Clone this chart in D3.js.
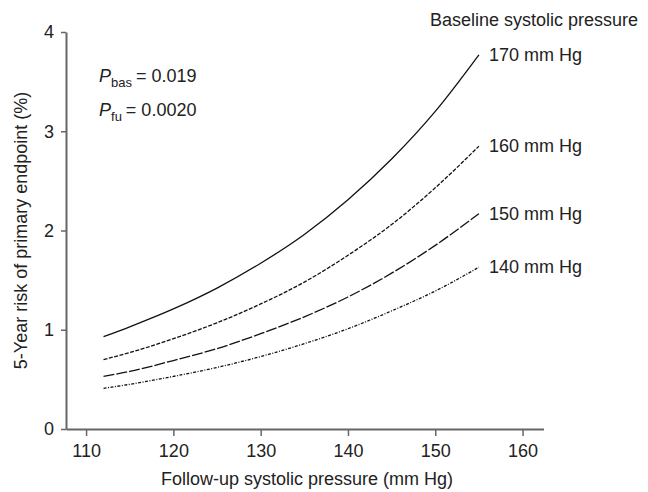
<!DOCTYPE html>
<html>
<head>
<meta charset="utf-8">
<script src="https://cdn.jsdelivr.net/npm/d3@7"></script>
<style>
  body { margin: 0; background: #fff; }
  text { font-family: "Liberation Sans", Arial, sans-serif; fill: #222; }
</style>
</head>
<body>
<div id="chart"></div>
<script>
// follow-up systolic pressure (mm Hg)
const followUp = [112, 115, 120, 125, 130, 135, 140, 145, 150, 155];
// 5-year risk (%) by baseline systolic pressure
const risk170 = [0.93, 1.03, 1.21, 1.42, 1.67, 1.96, 2.31, 2.72, 3.20, 3.77];
const risk160 = [0.70, 0.77, 0.91, 1.07, 1.26, 1.48, 1.75, 2.06, 2.43, 2.85];
const risk150 = [0.53, 0.58, 0.69, 0.81, 0.96, 1.13, 1.33, 1.57, 1.85, 2.17];
const risk140 = [0.41, 0.45, 0.53, 0.62, 0.73, 0.86, 1.01, 1.19, 1.39, 1.63];
const seriesLabels = ["170 mm Hg", "160 mm Hg", "150 mm Hg", "140 mm Hg"];
const xTicks = [110, 120, 130, 140, 150, 160];
const yTicks = [0, 1, 2, 3, 4];

const W = 648, H = 492;
const margin = {top: 32, right: 104.5, bottom: 63, left: 66},
    _width = W - margin.left - margin.right,
    _height = H - margin.top - margin.bottom;

const svg = d3.select("#chart")
    .append("svg")
    .attr("width", W)
    .attr("height", H)
    .append("g")
    .attr("transform", "translate(" + margin.left + "," + margin.top + ")");

const xScale = d3.scaleLinear().domain([107.7, 162.4]).range([0, _width]);
const yScale = d3.scaleLinear().domain([0, 4]).range([_height, 0]);

// axes
const xAxis = svg.append("g")
    .attr("transform", "translate(0," + _height + ")")
    .call(d3.axisBottom(xScale).tickValues(xTicks).tickFormat(d3.format("d"))
        .tickSize(7).tickPadding(8).tickSizeOuter(0));
const yAxis = svg.append("g")
    .call(d3.axisLeft(yScale).tickValues(yTicks).tickFormat(d3.format("d"))
        .tickSize(5).tickPadding(7).tickSizeOuter(0));

[xAxis, yAxis].forEach(function(a) {
    a.select(".domain").attr("stroke", "#666").attr("stroke-width", 2);
    a.selectAll(".tick line").attr("stroke", "#666").attr("stroke-width", 1.5);
    a.selectAll(".tick text").attr("font-size", 18).attr("fill", "#222")
        .attr("font-family", "Liberation Sans, Arial, sans-serif");
});

// axis titles
svg.append("text")
    .attr("x", xScale(135.3))
    .attr("y", _height + 56)
    .attr("text-anchor", "middle")
    .attr("font-size", 18)
    .text("Follow-up systolic pressure (mm Hg)");

svg.append("text")
    .attr("transform", "translate(" + (27 - margin.left) + "," + (_height / 2) + ") rotate(-90)")
    .attr("text-anchor", "middle")
    .attr("font-size", 18)
    .text("5-Year risk of primary endpoint (%)");

// curves
const series = [risk170, risk160, risk150, risk140];
const dashes = [null, "4,1.5", "11,2", "3,1.5,1,1.5"];

const line = d3.line()
    .x(function(d, i) { return xScale(followUp[i]); })
    .y(function(d) { return yScale(d); })
    .curve(d3.curveMonotoneX);

series.forEach(function(s, k) {
    svg.append("path")
        .datum(s)
        .attr("fill", "none")
        .attr("stroke", "#111")
        .attr("stroke-width", 1.3)
        .attr("stroke-dasharray", dashes[k])
        .attr("d", line);

    svg.append("text")
        .attr("x", xScale(followUp[followUp.length - 1]) + 10)
        .attr("y", yScale(s[s.length - 1]) + 6)
        .attr("font-size", 18)
        .text(seriesLabels[k]);
});

svg.append("text")
    .attr("x", 430 - margin.left)
    .attr("y", 26 - margin.top)
    .attr("font-size", 18)
    .text("Baseline systolic pressure");

// P values
const pText = [["bas", "= 0.019"], ["fu", "= 0.0020"]];
pText.forEach(function(p, i) {
    const t = svg.append("text")
        .attr("x", 99 - margin.left)
        .attr("y", 82 + i * 34 - margin.top)
        .attr("font-size", 18);
    t.append("tspan").attr("font-style", "italic").text("P");
    t.append("tspan").attr("font-size", 13).attr("dy", 5).text(p[0]);
    t.append("tspan").attr("dy", -5).attr("dx", 4).text(p[1]);
});
</script>
</body>
</html>
